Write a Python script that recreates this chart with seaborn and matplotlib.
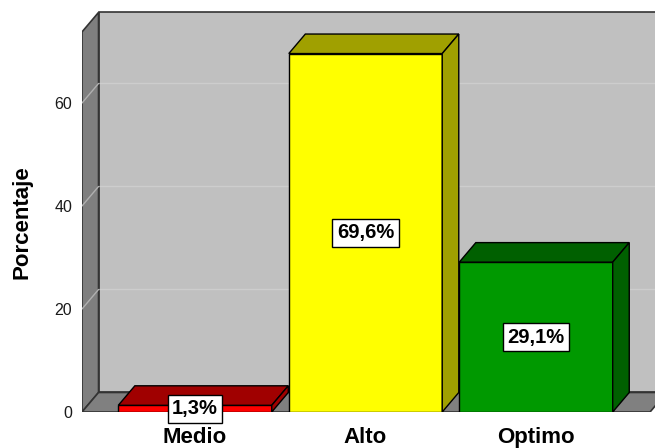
import matplotlib
matplotlib.use("Agg")
import matplotlib.pyplot as plt
from matplotlib.patches import Polygon
import seaborn as sns

# ---- data ----
categories = ["Medio", "Alto", "Optimo"]
percentages = [1.3, 69.6, 29.1]
value_labels = ["1,3%", "69,6%", "29,1%"]
yticks = [0, 20, 40, 60]
front_colors = ["#FF0000", "#FFFF00", "#009900"]
dark_colors = ["#A00000", "#A0A000", "#006000"]

sns.set_theme(style="white")
plt.rcParams["font.family"] = ["Liberation Sans", "DejaVu Sans"]
plt.rcParams["text.color"] = "black"
plt.rcParams["axes.labelcolor"] = "black"
plt.rcParams["xtick.color"] = "black"
plt.rcParams["ytick.color"] = "black"

W, H = 655, 448
fig = plt.figure(figsize=(W / 100, H / 100), dpi=100)
ax_left, ax_bottom = 82, 36  # pixels
ax = fig.add_axes([ax_left / W, ax_bottom / H, (W - ax_left) / W, (H - ax_bottom) / H])

x0, x1 = -0.663, 2.698      # axes x-range
xR = 2.669                  # right end of floor front edge
ymax_wall = 73.8
dx, dy = 0.097, 3.79        # depth offset in data units
bar_w = 0.9

# walls
ax.add_patch(Polygon([(x0 + dx, dy), (xR + dx + 1, dy), (xR + dx + 1, ymax_wall + dy),
                      (x0 + dx, ymax_wall + dy)], closed=True, fc="#C0C0C0",
                     ec="#333333", lw=1.2, zorder=0))
ax.add_patch(Polygon([(x0, 0), (x0 + dx, dy), (x0 + dx, ymax_wall + dy), (x0, ymax_wall)],
                     closed=True, fc="#7F7F7F", ec="#333333", lw=1.2, zorder=0.5))
ax.add_patch(Polygon([(x0, 0), (xR, 0), (xR + dx, dy), (x0 + dx, dy)], closed=True,
                     fc="#808080", ec="#333333", lw=1.2, zorder=0.5))
for t in yticks[1:]:
    ax.plot([x0 + dx, xR + dx + 1], [t + dy, t + dy], color="#CDCDCD", lw=1, zorder=0.2)
    ax.plot([x0, x0 + dx], [t, t + dy], color="#B0B0B0", lw=1, zorder=0.6)

# front faces via seaborn
sns.barplot(x=categories, y=percentages, hue=categories, palette=front_colors,
            width=bar_w, edgecolor="black", linewidth=1, legend=False, saturation=1,
            ax=ax, zorder=3)

# 3D top and side faces
for i, (v, dc) in enumerate(zip(percentages, dark_colors)):
    l, r = i - bar_w / 2, i + bar_w / 2
    ax.add_patch(Polygon([(l, v), (r, v), (r + dx, v + dy), (l + dx, v + dy)], closed=True,
                         fc=dc, ec="black", lw=1, zorder=3))
    ax.add_patch(Polygon([(r, 0), (r + dx, dy), (r + dx, v + dy), (r, v)], closed=True,
                         fc=dc, ec="black", lw=1, zorder=3))
    ax.text(i, v / 2, value_labels[i], ha="center", va="center", fontsize=14.5,
            fontweight="bold", color="black",
            bbox=dict(boxstyle="square,pad=0.22", fc="white", ec="black", lw=1), zorder=5)

ax.set_xlim(x0, x1)
ax.set_ylim(0, 80)
for s in ax.spines.values():
    s.set_visible(False)
ax.set_yticks(yticks)
ax.set_yticklabels([str(t) for t in yticks], fontsize=11.5, color="#1a1a1a")
ax.tick_params(axis="y", length=0, pad=7)
ax.tick_params(axis="x", length=0, pad=11)
ax.set_xticks(range(len(categories)))
ax.set_xticklabels(categories, fontsize=16, fontweight="bold", color="black")
ax.set_xlabel("")
ax.set_ylabel("Porcentaje", fontsize=16, fontweight="bold", color="black")
ax.yaxis.label.set_ha("center")
ax.yaxis.label.set_va("center")
ax.yaxis.set_label_coords((22 - ax_left) / (W - ax_left), (412 - 222) / 412)

fig.savefig("out.png", dpi=100, facecolor="white")
